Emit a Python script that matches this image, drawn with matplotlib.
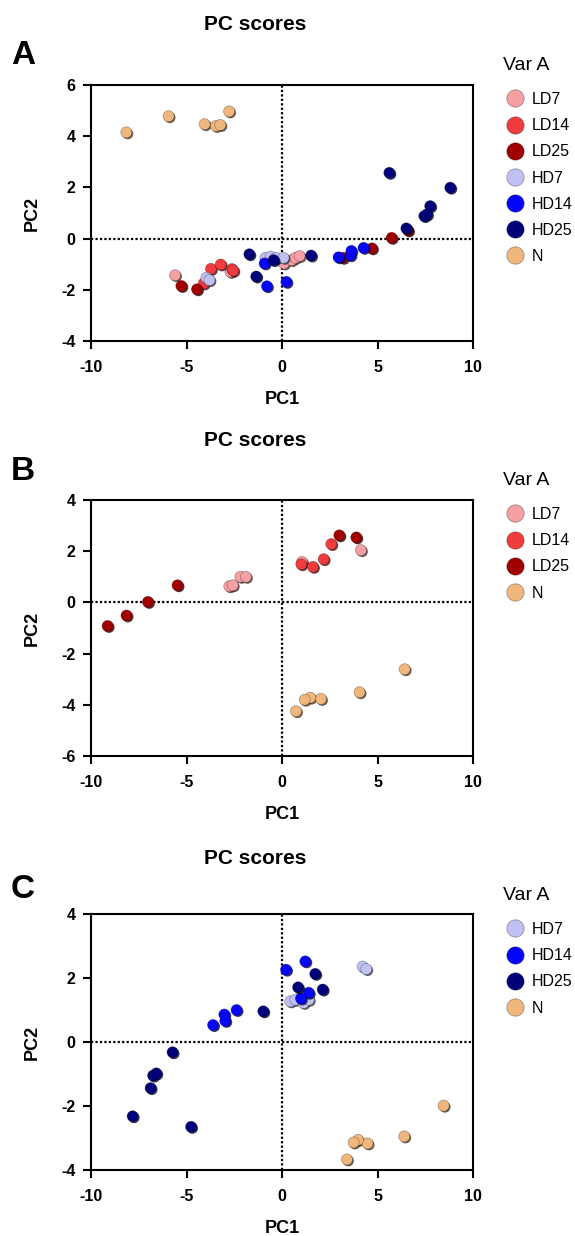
import matplotlib
matplotlib.use('Agg')
import matplotlib.pyplot as plt
import matplotlib.patheffects as pe
from matplotlib.lines import Line2D

plt.rcParams['font.family'] = ['Liberation Sans', 'DejaVu Sans']
plt.rcParams['axes.unicode_minus'] = False

# cores de cada grupo
cores = {
    'LD7': '#F5A0A2',
    'LD14': '#F03C3E',
    'LD25': '#A00000',
    'HD7': '#C0C0F2',
    'HD14': '#0505FA',
    'HD25': '#00007A',
    'N': '#EFB67E',
}

# --- PAINEL A: escores (PC1, PC2) ---
a_ld7 = [(-5.6, -1.43), (-2.7, -1.3), (0.1, -0.97), (0.5, -0.84), (0.7, -0.75), (0.92, -0.68)]
a_ld14 = [(-4.1, -1.75), (-3.72, -1.18), (-3.21, -1.01), (-2.62, -1.19), (-2.55, -1.25)]
a_ld25 = [(-5.27, -1.85), (-4.45, -1.98), (3.19, -0.75), (4.71, -0.38), (5.74, 0.03), (6.6, 0.32)]
a_hd7 = [(-3.96, -1.53), (-3.8, -1.62), (-0.87, -0.75), (-0.6, -0.7), (-0.3, -0.75), (0.08, -0.75)]
a_hd14 = [(-0.91, -0.97), (-0.79, -1.86), (0.23, -1.69), (2.96, -0.73), (3.58, -0.65), (3.63, -0.48), (4.27, -0.36)]
a_hd25 = [(-1.71, -0.61), (-1.35, -1.48), (-0.44, -0.84), (1.52, -0.66), (5.62, 2.57), (6.51, 0.40),
          (7.45, 0.88), (7.59, 0.95), (7.76, 1.27), (8.81, 1.99)]
a_n = [(-8.15, 4.15), (-5.94, 4.78), (-4.05, 4.47), (-3.46, 4.40), (-3.23, 4.44), (-2.77, 4.97)]

# --- PAINEL B ---
b_ld7 = [(-2.76, 0.63), (-2.58, 0.67), (-2.18, 1.0), (-1.89, 1.0), (1.05, 1.58), (4.13, 2.04)]
b_ld14 = [(1.01, 1.49), (1.62, 1.39), (2.18, 1.69), (2.58, 2.28)]
b_ld25 = [(-9.13, -0.92), (-8.14, -0.51), (-7.02, 0.02), (-5.47, 0.67), (3.0, 2.62), (3.89, 2.54)]
b_n = [(6.42, -2.61), (4.06, -3.51), (2.04, -3.77), (1.48, -3.72), (1.19, -3.80), (0.73, -4.25)]

# --- PAINEL C ---
c_hd7 = [(0.43, 1.27), (0.70, 1.32), (1.13, 1.22), (1.40, 1.32), (4.22, 2.36), (4.41, 2.28)]
c_hd14 = [(-3.61, 0.53), (-3.02, 0.86), (-2.97, 0.66), (-2.38, 1.0), (0.21, 2.26), (1.22, 2.52),
          (1.40, 1.54), (0.99, 1.36)]
c_hd25 = [(-7.82, -2.32), (-6.88, -1.44), (-6.75, -1.05), (-6.58, -0.98), (-5.73, -0.32), (-4.76, -2.65),
          (-0.98, 0.96), (1.74, 2.13), (0.84, 1.71), (2.13, 1.64)]
c_n = [(8.46, -1.99), (6.40, -2.95), (4.48, -3.17), (3.98, -3.06), (3.75, -3.14), (3.40, -3.67)]

W, H = 575, 1236
fig = plt.figure(figsize=(W / 100, H / 100), dpi=100)


def px(x0, y0, x1, y1):
    # converte caixa em pixels (topo-esquerda) para coordenadas da figura
    return [x0 / W, 1 - y1 / H, (x1 - x0) / W, (y1 - y0) / H]


def painel(caixa, letra, y_titulo, grupos, ylim, yticks, y_var):
    ax = fig.add_axes(px(*caixa))
    for nome, pts in grupos:
        xs = [p[0] for p in pts]
        ys = [p[1] for p in pts]
        sc = ax.scatter(xs, ys, s=64, color=cores[nome], edgecolors='#00000055',
                        linewidths=0.5, zorder=3)
        sc.set_path_effects([pe.SimplePatchShadow(offset=(1.0, -1.0), alpha=0.8), pe.Normal()])

    ax.axhline(0, color='black', ls=(0, (1, 1)), lw=1.6, zorder=2)
    ax.axvline(0, color='black', ls=(0, (1, 1)), lw=1.6, zorder=2)

    ax.set_xlim(-10, 10)
    ax.set_ylim(*ylim)
    ax.set_xticks([-10, -5, 0, 5, 10])
    ax.set_yticks(yticks)
    for s in ax.spines.values():
        s.set_linewidth(1.5)
    ax.tick_params(length=6, width=1.5, labelsize=11.5)
    ax.tick_params(axis='x', pad=8)
    ax.tick_params(axis='y', pad=5)
    for lab in ax.get_xticklabels() + ax.get_yticklabels():
        lab.set_fontweight('bold')

    ax.set_xlabel('PC1', fontsize=13, fontweight='bold', labelpad=11)
    ax.set_ylabel('PC2', fontsize=13, fontweight='bold', labelpad=15)

    fig.text(255 / W, 1 - y_titulo / H, 'PC scores', ha='center', va='center',
             fontsize=15, fontweight='bold')
    fig.text(11 / W, 1 - (y_titulo + 31) / H, letra, ha='left', va='center',
             fontsize=24, fontweight='bold')

    # legenda: título à parte, itens logo abaixo
    fig.text(503 / W, 1 - y_var / H, 'Var A', ha='left', va='center', fontsize=14)
    handles = [Line2D([], [], marker='o', ls='', markersize=12.5, markerfacecolor=cores[n],
                      markeredgecolor='#00000055', markeredgewidth=0.6) for n, _ in grupos]
    ax.legend(handles, [n for n, _ in grupos], loc='upper left',
              bbox_to_anchor=(505 / W, 1 - (y_var + 27) / H), bbox_transform=fig.transFigure,
              frameon=False, fontsize=11.5, handlelength=1.2, handletextpad=0.47,
              labelspacing=0.7, borderpad=0, borderaxespad=0)
    return ax


painel((91, 85, 473, 341), 'A', 25,
       [('LD7', a_ld7), ('LD14', a_ld14), ('LD25', a_ld25), ('HD7', a_hd7),
        ('HD14', a_hd14), ('HD25', a_hd25), ('N', a_n)],
       (-4, 6), [-4, -2, 0, 2, 4, 6], 65)

painel((91, 500, 473, 756), 'B', 441,
       [('LD7', b_ld7), ('LD14', b_ld14), ('LD25', b_ld25), ('N', b_n)],
       (-6, 4), [-6, -4, -2, 0, 2, 4], 480)

painel((91, 914, 473, 1170), 'C', 858,
       [('HD7', c_hd7), ('HD14', c_hd14), ('HD25', c_hd25), ('N', c_n)],
       (-4, 4), [-4, -2, 0, 2, 4], 895)

fig.savefig('out.png', dpi=100)
